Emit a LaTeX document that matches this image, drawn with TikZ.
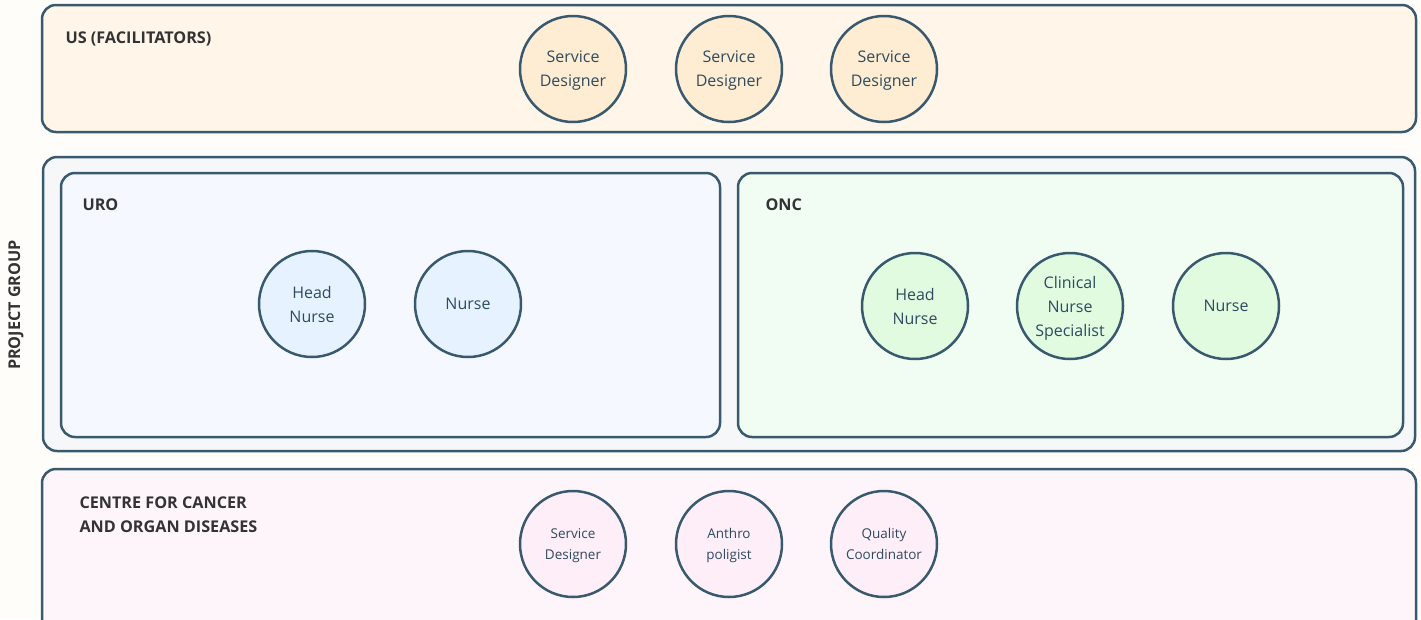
\documentclass[tikz,border=0pt]{standalone}
\usepackage{fontspec}
\setmainfont{Open Sans}
\definecolor{edge}{HTML}{38596E}
\definecolor{ink}{HTML}{2F4B61}
\definecolor{heading}{HTML}{333333}
\definecolor{paper}{HTML}{FEFDF9}
\definecolor{usbg}{HTML}{FFF5E8}
\definecolor{usdot}{HTML}{FEEDD2}
\definecolor{pgbg}{HTML}{F6F7F8}
\definecolor{urobg}{HTML}{F5F9FF}
\definecolor{urodot}{HTML}{E6F2FF}
\definecolor{oncbg}{HTML}{F1FDF2}
\definecolor{oncdot}{HTML}{E0FBE0}
\definecolor{ccbg}{HTML}{FEF5FB}
\definecolor{ccdot}{HTML}{FDEEF8}
\tikzset{
  panel/.style={draw=edge, line width=2.5pt, rounded corners=14pt},
  role/.style={circle, draw=edge, line width=2.5pt, minimum size=106pt, inner sep=0pt,
    align=center, text=ink, text depth=0pt, font=\fontsize{16}{24}\selectfont},
  smallrole/.style={role, font=\fontsize{13.5}{21}\selectfont},
  grouplabel/.style={anchor=west, text=heading, align=left, font=\bfseries\fontsize{16.2}{24}\selectfont}
}
\begin{document}
\begin{tikzpicture}[x=1pt,y=-1pt]
\useasboundingbox (0,0) rectangle (1421,619);
\clip (0,0) rectangle (1421,619);
\fill[paper] (0,0) rectangle (1421,619);
% facilitators
\filldraw[panel, fill=usbg] (42,5) rectangle (1416,132);
\node[grouplabel] (us) at (62,39) {US (FACILITATORS)};
\foreach \x/\n in {573/1, 729/2, 884/3}
  \node[role, fill=usdot] (sd\n) at (\x,69) {Service\\Designer};
% project group
\filldraw[panel, fill=pgbg] (43,157) rectangle (1415,451);
\node[rotate=90, text=heading, font=\bfseries\fontsize{16.2}{18}\selectfont] (pg) at (16,305) {PROJECT GROUP};
\filldraw[panel, fill=urobg] (61,173) rectangle (720,437);
\node[grouplabel] (uro) at (79,205) {URO};
\node[role, fill=urodot] (urohead) at (312,304) {Head\\Nurse};
\node[role, fill=urodot] (uronurse) at (468,304) {Nurse};
\filldraw[panel, fill=oncbg] (738,173) rectangle (1403,437);
\node[grouplabel] (onc) at (762,205) {ONC};
\node[role, fill=oncdot] (onchead) at (915,306) {Head\\Nurse};
\node[role, fill=oncdot] (oncspec) at (1070,306) {Clinical\\Nurse\\Specialist};
\node[role, fill=oncdot] (oncnurse) at (1226,306) {Nurse};
% centre
\filldraw[panel, fill=ccbg] (42,469) rectangle (1416,640);
\node[grouplabel] (cc) at (76,515) {CENTRE FOR CANCER\\AND ORGAN DISEASES};
\node[smallrole, fill=ccdot] (ccsd) at (573,544) {Service\\Designer};
\node[smallrole, fill=ccdot] (ccanth) at (729,544) {Anthro\\poligist};
\node[smallrole, fill=ccdot] (ccqual) at (884,544) {Quality\\Coordinator};
\end{tikzpicture}
\end{document}
